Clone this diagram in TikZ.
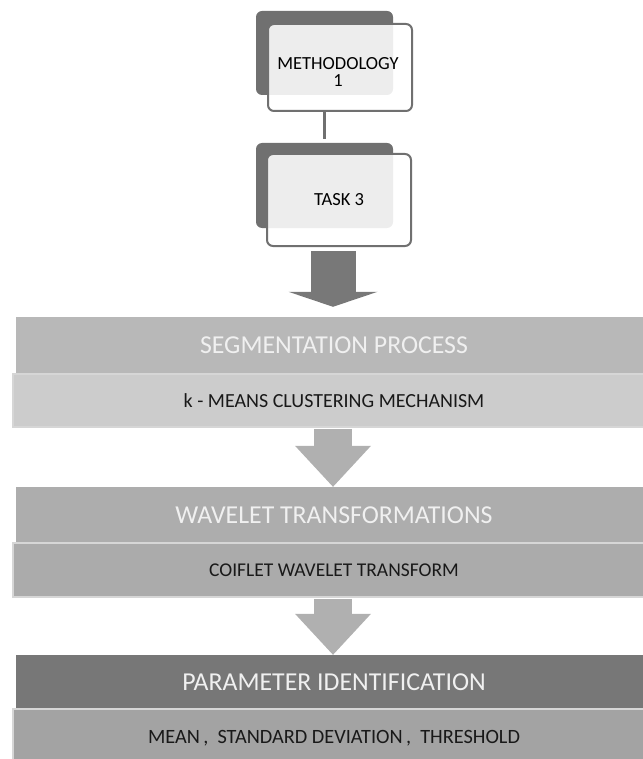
\documentclass[tikz,border=0pt]{standalone}
\usepackage{fontspec}
\setmainfont{Carlito}
\usepackage{tikz}
\usetikzlibrary{arrows.meta, positioning}
\definecolor{backgrey}{HTML}{707070}
\definecolor{headone}{HTML}{B8B8B8}
\definecolor{subone}{HTML}{CCCCCC}
\definecolor{headtwo}{HTML}{ADADAD}
\definecolor{subtwo}{HTML}{ABABAB}
\definecolor{headthree}{HTML}{777777}
\definecolor{subthree}{HTML}{A3A3A3}
\definecolor{rimgrey}{HTML}{D6D6D6}
\definecolor{darkarrow}{HTML}{787878}
\definecolor{lightarrow}{HTML}{B0B0B0}

\begin{document}
\begin{tikzpicture}[
  x=1pt, y=-1pt,
  backbox/.style={rectangle, fill=backgrey, rounded corners=6pt,
              minimum width=137pt, minimum height=84pt, inner sep=0pt},
  frontbox/.style={rectangle, draw=backgrey, line width=2pt, fill=white, fill opacity=0.88,
              text opacity=1, rounded corners=6pt, align=center, font=\fontsize{18.5}{18}\selectfont,
              minimum width=144pt, minimum height=87pt, inner sep=0pt},
  head/.style={rectangle, minimum width=636pt, minimum height=57pt, inner sep=0pt,
              text=white!94!black, font=\fontsize{25.8}{28}\selectfont},
  sub/.style={rectangle, draw=rimgrey, line width=1.5pt, minimum width=642pt,
              minimum height=53pt, inner sep=0pt, text=black!90},
  link/.style={draw=backgrey, line width=2.5pt},
  arrow/.style={line width=38pt, draw=lightarrow,
              -{Triangle[width=76pt, length=41pt, line width=0pt]}}
]
\useasboundingbox (0,0) rectangle (642,759);
\coordinate (axis) at (333,0);

% top boxes
\node[backbox] (methback) at (324.5,53) {};
\node[frontbox] (meth) at (340,67.5) {};
\node[font=\fontsize{18.5}{17}\selectfont, align=center] (methtext) at (338,72) {METHODOLOGY\\1};
\node[backbox, minimum height=85pt] (taskback) at (324.5,185.5) {};
\node[frontbox, minimum height=92pt] (task) at (339,200) {TASK 3};
\draw[link] (meth.south -| methback) -- ++(0,27);

% stages
\node[head, fill=headone] (segm) at (334,345.5) {SEGMENTATION PROCESS};
\node[sub, fill=subone, font=\fontsize{20}{24}\selectfont] (kmeans) at (334,400.5)
  {k - MEANS CLUSTERING MECHANISM};
\node[head, fill=headtwo, minimum height=56pt] (wave) at (334,515) {WAVELET TRANSFORMATIONS};
\node[sub, fill=subtwo, minimum height=54pt, font=\fontsize{19.5}{22}\selectfont] (coif) at (334,570)
  {COIFLET WAVELET TRANSFORM};
\node[head, fill=headthree, minimum height=54pt] (param) at (334,682) {PARAMETER IDENTIFICATION};
\node[sub, fill=subthree, minimum height=58pt, font=\fontsize{20.3}{24}\selectfont] (stats) at (334,738)
  {MEAN\,,\ \ STANDARD DEVIATION\,,\ \ THRESHOLD};

% block arrows
\draw[arrow, line width=45pt, draw=darkarrow,
  -{Triangle[width=89pt, length=15pt, line width=0pt]}, shorten <=4pt, shorten >=10pt]
  (task.south -| axis) -- (segm.north -| axis);
\draw[arrow, shorten <=1pt] (kmeans.south -| axis) -- (wave.north -| axis);
\draw[arrow, shorten <=1pt] (coif.south -| axis) -- (param.north -| axis);
\end{tikzpicture}
\end{document}
